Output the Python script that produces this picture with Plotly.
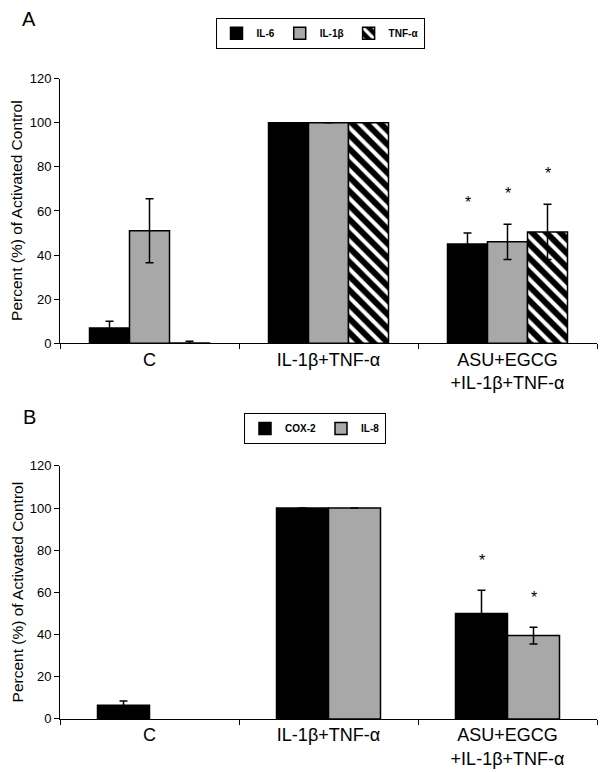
import plotly.graph_objects as go

# ---------------- data ----------------
categories = ["C", "IL-1β+TNF-α", "ASU+EGCG<br>+IL-1β+TNF-α"]

# Panel A
a_series = ["IL-6", "IL-1β", "TNF-α"]
a_il6 = [7, 100, 45]
a_il6_err = [3, 0, 5]
a_il1b = [51, 100, 46]
a_il1b_err = [14.5, 0, 8]
a_tnf = [0.2, 100, 50.5]
a_tnf_err = [0.7, 0, 12.5]
a_sig = [[False, False, True], [False, False, True], [False, False, True]]

# Panel B
b_series = ["COX-2", "IL-8"]
b_cox2 = [6.5, 100, 50]
b_cox2_err = [2, 0, 11]
b_il8 = [None, 100, 39.5]
b_il8_err = [0, 0, 4]
b_sig = [[False, False, True], [False, False, True]]

y_ticks = [0, 20, 40, 60, 80, 100, 120]

# ---------------- styling ----------------
FONT = "Liberation Sans, Arial, sans-serif"
BLACK = "#000000"
GRAY = "#a8a8a8"
W, H = 600, 772
ML, MR = 60, 3
plot_w = W - ML - MR
px_per_cat = plot_w / len(categories)

fig = go.Figure()

def add_bars(xaxis, yaxis, legend, names, values, errs, styles, bar_w, sigs):
    n = len(names)
    for i, (nm, v, e, st, sg) in enumerate(zip(names, values, errs, styles, sigs)):
        offset = (i - n / 2) * bar_w
        marker = dict(color=st.get("color", BLACK), line=dict(color=BLACK, width=1.5))
        if "pattern" in st:
            marker["pattern"] = st["pattern"]
        fig.add_trace(go.Bar(
            x=categories, y=v, name=nm, xaxis=xaxis, yaxis=yaxis, legend=legend,
            width=bar_w, offset=offset, marker=marker,
            error_y=dict(type="data", array=e, visible=True, color=BLACK,
                         thickness=1.5, width=4),
        ))
        # significance asterisks
        for c, val, err, s in zip(categories, v, e, sg):
            if s and val is not None:
                fig.add_annotation(
                    x=c, y=val + err + 14, xref=xaxis, yref=yaxis,
                    text="*", showarrow=False,
                    xshift=(offset + bar_w / 2) * px_per_cat, yshift=0,
                    font=dict(family=FONT, size=16, color=BLACK),
                )

hatch = dict(shape="\\", bgcolor=BLACK, fgcolor="white", size=10,
             solidity=0.4, fillmode="replace")

add_bars("x", "y", "legend", a_series,
         [a_il6, a_il1b, a_tnf], [a_il6_err, a_il1b_err, a_tnf_err],
         [dict(color=BLACK), dict(color=GRAY), dict(color=BLACK, pattern=hatch)],
         40 / px_per_cat, a_sig)

add_bars("x2", "y2", "legend2", b_series,
         [b_cox2, b_il8], [b_cox2_err, b_il8_err],
         [dict(color=BLACK), dict(color=GRAY)],
         52 / px_per_cat, b_sig)

def ydom(top_px, bottom_px):
    return [(H - bottom_px) / H, (H - top_px) / H]

xcommon = dict(
    type="category", range=[-0.5, 2.5], showline=True, linecolor=BLACK, linewidth=1,
    ticks="outside", tickson="boundaries", ticklen=5, tickcolor=BLACK, tickwidth=1,
    tickfont=dict(family=FONT, size=18, color=BLACK), showgrid=False, zeroline=False,
    fixedrange=True,
)
ycommon = dict(
    range=[0, 120], tickvals=y_ticks, showline=True, linecolor=BLACK, linewidth=1,
    ticks="outside", ticklen=5, tickcolor=BLACK, tickwidth=1,
    tickfont=dict(family=FONT, size=13, color=BLACK), showgrid=False, zeroline=False,
    fixedrange=True,
)

legcommon = dict(
    orientation="h", xanchor="center", yanchor="top",
    bordercolor=BLACK, borderwidth=1, bgcolor="white",
    font=dict(family=FONT, size=10, color=BLACK, weight="bold"),
    itemwidth=30, tracegroupgap=0,
)

fig.update_layout(
    width=W, height=H,
    margin=dict(l=ML, r=MR, t=0, b=0),
    paper_bgcolor="white", plot_bgcolor="white",
    barmode="group",
    showlegend=True,
    xaxis=dict(**xcommon, anchor="y", domain=[0, 1]),
    yaxis=dict(**ycommon, anchor="x", domain=ydom(73, 343)),
    xaxis2=dict(**xcommon, anchor="y2", domain=[0, 1]),
    yaxis2=dict(**ycommon, anchor="x2", domain=ydom(468, 726)),
    legend=dict(**legcommon, x=(320 - ML) / plot_w, y=(H - 11) / H),
    legend2=dict(**legcommon, x=(315 - ML) / plot_w, y=(H - 414) / H),
)

ytitle = "Percent (%) of Activated Control"
for ycen in [(73 + 343) / 2, (468 + 726) / 2]:
    fig.add_annotation(
        x=(17 - ML) / plot_w, y=(H - ycen) / H, xref="paper", yref="paper",
        text=ytitle, textangle=-90, showarrow=False,
        xanchor="center", yanchor="middle",
        font=dict(family=FONT, size=15.5, color=BLACK),
    )

for lab, ycen in [("A", 12), ("B", 418)]:
    fig.add_annotation(
        x=(29 - ML) / plot_w, y=(H - ycen) / H, xref="paper", yref="paper",
        text=lab, showarrow=False, xanchor="center", yanchor="middle",
        font=dict(family=FONT, size=20, color=BLACK),
    )

fig.write_html(
    "out.html",
    config={"displayModeBar": False},
    post_script="document.body.style.margin='0';document.body.style.overflow='hidden';",
)
